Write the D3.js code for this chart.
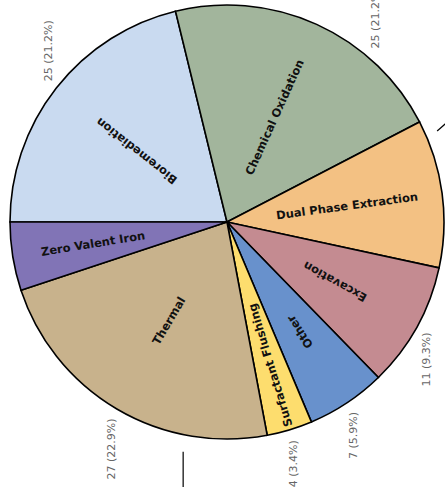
<!DOCTYPE html>
<html lang="en">
  <head>
    <meta charset="UTF-8" />
    <title>Remediation technologies pie</title>
    <script src="https://d3js.org/d3.v7.min.js"></script>
    <style>
      body {
        margin: 0;
        background: #fff;
      }
      svg {
        display: block;
      }
      .slice {
        stroke: #000;
        stroke-width: 1.6px;
      }
      .inner-label {
        font-family: "DejaVu Sans", sans-serif;
        font-weight: bold;
        font-size: 11.5px;
        fill: #111;
      }
      .outer-label {
        font-family: "DejaVu Sans", sans-serif;
        font-size: 11px;
        fill: #666;
      }
      .leader {
        stroke: #000;
        stroke-width: 1.2px;
        fill: none;
      }
    </style>
  </head>
  <body>
    <svg id="chart" width="445" height="487"></svg>

    <script>
      // -------------------------------------------------------------------
      // DATA
      // -------------------------------------------------------------------
      const categories = [
        "Bioremediation",
        "Chemical Oxidation",
        "Dual Phase Extraction",
        "Excavation",
        "Other",
        "Surfactant Flushing",
        "Thermal",
        "Zero Valent Iron",
      ];
      const counts = [25, 25, 13, 11, 7, 4, 27, 6];
      const colors = [
        "#c9daf0",
        "#a2b59c",
        "#f3c183",
        "#c48b91",
        "#6891cc",
        "#fddd6e",
        "#c8b28c",
        "#8174b6",
      ];

      const rows = categories.map((c, i) => ({ name: c, value: counts[i], color: colors[i] }));
      const total = d3.sum(counts);

      // -------------------------------------------------------------------
      // LAYOUT
      // -------------------------------------------------------------------
      const svg = d3.select("#chart");
      const cx = 227;
      const cy = 222;
      const radius = 217;

      const g = svg.append("g").attr("transform", `translate(${cx},${cy})`);

      // slices go clockwise starting at 9 o'clock
      const pie = d3
        .pie()
        .sort(null)
        .value((d) => d.value)
        .startAngle(-Math.PI / 2)
        .endAngle((3 * Math.PI) / 2);

      const arcs = pie(rows);
      const arc = d3.arc().innerRadius(0).outerRadius(radius);

      g.selectAll(".slice")
        .data(arcs)
        .join("path")
        .attr("class", "slice")
        .attr("d", arc)
        .attr("fill", (d) => d.data.color);

      const deg = (a) => (a * 180) / Math.PI;
      const norm = (a) => ((deg(a) % 360) + 360) % 360;
      const polar = (angleDeg, r) => {
        const a = (angleDeg * Math.PI) / 180;
        return [Math.sin(a) * r, -Math.cos(a) * r];
      };

      // radial labels inside the slices; narrow slices push the text outward
      g.selectAll(".inner-label")
        .data(arcs)
        .join("text")
        .attr("class", "inner-label")
        .attr("text-anchor", "middle")
        .attr("dy", "0.35em")
        .attr("transform", (d) => {
          const mid = norm((d.startAngle + d.endAngle) / 2);
          const span = deg(d.endAngle - d.startAngle);
          const r = radius * (0.5 + 2.3 / span);
          const [x, y] = polar(mid, r);
          let rot = mid - 90;
          if (mid >= 90 && mid < 270) rot += 180;
          return `translate(${x},${y}) rotate(${rot})`;
        })
        .text((d) => d.data.name);

      // value labels outside, written vertically (some sit past the frame edge)
      const labelNudge = { "Chemical Oxidation": 16, "Zero Valent Iron": 5 };
      const labelPush = { "Dual Phase Extraction": 12, "Zero Valent Iron": 8 };

      g.selectAll(".outer-label")
        .data(arcs)
        .join("text")
        .attr("class", "outer-label")
        .attr("dy", "0.35em")
        .each(function (d) {
          const mid = norm((d.startAngle + d.endAngle) / 2) + (labelNudge[d.data.name] || 0);
          const [x, y] = polar(mid, radius + 11 + (labelPush[d.data.name] || 0));
          d3.select(this)
            .attr("text-anchor", y < 0 ? "start" : "end")
            .attr("transform", `translate(${x},${y}) rotate(-90)`);
        })
        .text((d) => `${d.data.value} (${((d.data.value / total) * 100).toFixed(1)}%)`);

      // short leader strokes belonging to labels outside the frame
      const leaders = [
        { angle: 66.6, r0: radius + 12, dx: 9, dy: -8 },
        { angle: 190.8, r0: radius + 17, dx: 0, dy: 45 },
      ];
      g.selectAll(".leader")
        .data(leaders)
        .join("line")
        .attr("class", "leader")
        .attr("x1", (d) => polar(d.angle, d.r0)[0])
        .attr("y1", (d) => polar(d.angle, d.r0)[1])
        .attr("x2", (d) => polar(d.angle, d.r0)[0] + d.dx)
        .attr("y2", (d) => polar(d.angle, d.r0)[1] + d.dy);
    </script>
  </body>
</html>
